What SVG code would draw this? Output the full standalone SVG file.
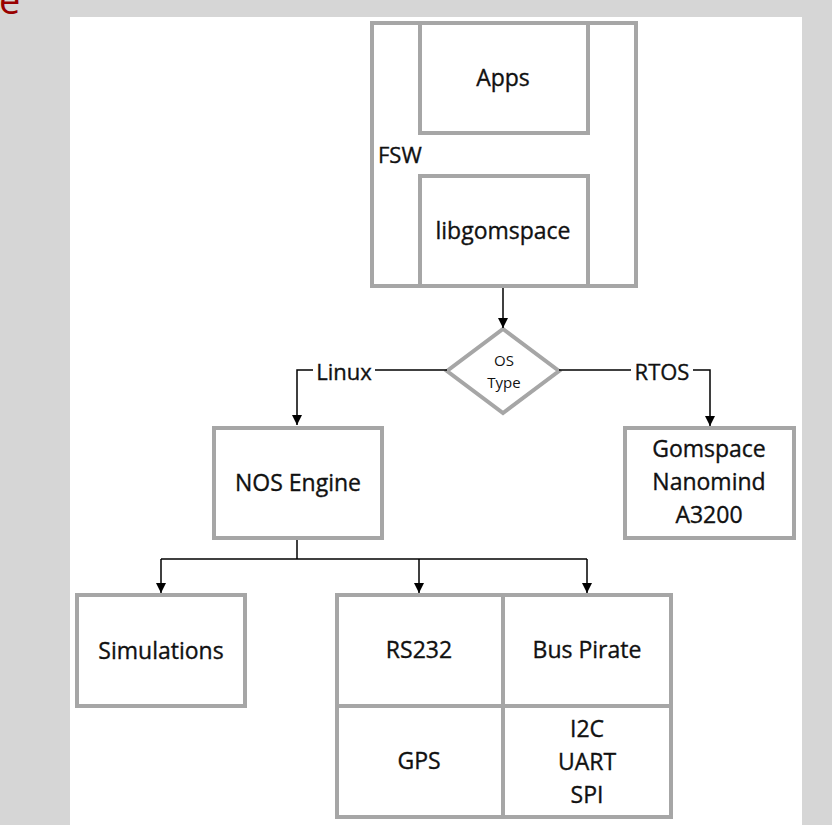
<svg xmlns="http://www.w3.org/2000/svg" width="832" height="825" viewBox="0 0 832 825">
<defs>
<style>
.box{fill:#ffffff;stroke:#a6a6a6;stroke-width:4}
.t{font-family:"Open Sans","Liberation Sans",sans-serif;font-size:23px;fill:#111111;stroke:#111111;stroke-width:0.35;text-anchor:middle}
.s{font-family:"Open Sans","Liberation Sans",sans-serif;font-size:15px;fill:#111111;text-anchor:middle}
.c{fill:none;stroke:#000000;stroke-width:1.5}
</style>
<marker id="ah" viewBox="0 0 10 10" refX="10" refY="5" markerWidth="10" markerHeight="10" markerUnits="userSpaceOnUse" orient="auto">
<path d="M0,0 L10,5 L0,10 Z" fill="#000000"/>
</marker>
</defs>
<rect x="0" y="0" width="832" height="825" fill="#d6d6d6"/>
<rect x="70" y="17" width="732" height="808" fill="#ffffff"/>
<text x="-1" y="14" font-family="Open Sans, Liberation Sans, sans-serif" font-size="38" fill="#990000">e</text>

<g id="fsw">
<rect class="box" x="372" y="23" width="264" height="263"/>
<text x="378" y="163" class="t" style="text-anchor:start;font-size:22px">FSW</text>
</g>
<g id="apps">
<rect class="box" x="420" y="23" width="168" height="110"/>
<text x="503" y="86" class="t">Apps</text>
</g>
<g id="libgomspace">
<rect class="box" x="420" y="176" width="168" height="110"/>
<text x="503" y="239" class="t">libgomspace</text>
</g>
<g id="ostype">
<polygon class="box" points="503,329 559,371 503,413 447,371"/>
<text x="504" y="366" class="s">OS</text>
<text x="504" y="388" class="s">Type</text>
</g>
<g id="nos">
<rect class="box" x="214" y="428" width="168" height="110"/>
<text x="298" y="491" class="t">NOS Engine</text>
</g>
<g id="gomspace">
<rect class="box" x="625" y="428" width="169" height="110"/>
<text x="709" y="457" class="t">Gomspace</text>
<text x="709" y="490" class="t">Nanomind</text>
<text x="709" y="523" class="t">A3200</text>
</g>
<g id="simulations">
<rect class="box" x="77" y="595" width="168" height="111"/>
<text x="161" y="659" class="t">Simulations</text>
</g>
<g id="rs232">
<rect class="box" x="337" y="595" width="166" height="111"/>
<text x="419" y="658" class="t">RS232</text>
</g>
<g id="buspirate">
<rect class="box" x="503" y="595" width="168" height="111"/>
<text x="587" y="658" class="t">Bus Pirate</text>
</g>
<g id="gps">
<rect class="box" x="337" y="706" width="166" height="111"/>
<text x="419" y="769" class="t">GPS</text>
</g>
<g id="protocols">
<rect class="box" x="503" y="706" width="168" height="111"/>
<text x="587" y="737" class="t">I2C</text>
<text x="587" y="770" class="t">UART</text>
<text x="587" y="803" class="t">SPI</text>
</g>

<g id="connectors">
<path class="c" d="M503,288 L503,328" marker-end="url(#ah)"/>
<path class="c" d="M447,370 L375,370"/>
<path class="c" d="M313,370 L297,370 L297,425" marker-end="url(#ah)"/>
<text x="344" y="380" class="t" style="font-size:22px">Linux</text>
<path class="c" d="M559,370 L631,370"/>
<path class="c" d="M693,370 L710,370 L710,426" marker-end="url(#ah)"/>
<text x="662" y="380" class="t" style="font-size:22px">RTOS</text>
<path class="c" d="M297,540 L297,559"/>
<path class="c" d="M161,559 L587,559"/>
<path class="c" d="M161,559 L161,593" marker-end="url(#ah)"/>
<path class="c" d="M419,559 L419,593" marker-end="url(#ah)"/>
<path class="c" d="M587,559 L587,593" marker-end="url(#ah)"/>
</g>
</svg>
